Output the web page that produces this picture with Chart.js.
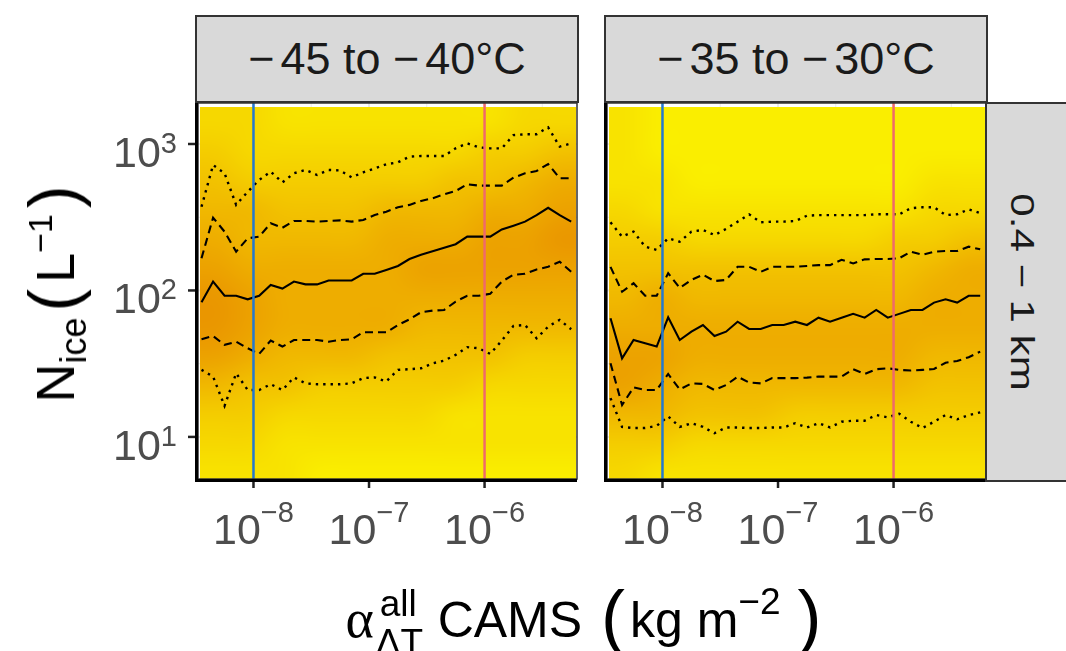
<!DOCTYPE html>
<html>
<head>
<meta charset="utf-8">
<script src="https://cdn.jsdelivr.net/npm/chart.js@4.4.1/dist/chart.umd.min.js"></script>
<style>
  html, body { margin: 0; padding: 0; background: #fff; }
  #wrap { position: relative; width: 1066px; height: 651px; overflow: hidden;
          font-family: 'Liberation Sans', Arial, sans-serif; }
  canvas { position: absolute; left: 0; top: 0; }
  .strip { position: absolute; box-sizing: border-box; background: #d9d9d9;
           border: 2px solid #333; color: #1a1a1a; font-size: 45px;
           display: flex; align-items: center; justify-content: center; white-space: nowrap; }
  .neg { margin-right: 6px; }
  #rowtext { position: absolute; left: 1022px; top: 292px; color: #1a1a1a; font-size: 42px; white-space: nowrap;
             line-height: 1; transform: translate(-50%, -50%) rotate(90deg) scaleY(0.78); }
  #ytitle { position: absolute; left: 50px; top: 291px; transform: translate(-50%, -50%) rotate(-90deg);
            font-size: 54px; line-height: 1; white-space: nowrap; color: #000; }
  #ytitle .sub { font-size: 36px; position: relative; top: 12px; }
  #ytitle .sup { font-size: 34px; position: relative; top: -22px; }
  #ytitle .bigp { font-size: 68px; position: relative; top: 3px; margin: 0 6px; }
  #xtitle { position: absolute; left: 586px; top: 576px; transform: translateX(-50%);
            font-size: 50px; line-height: 1; white-space: nowrap; color: #000; }
  #xtitle .alpha { font-family: 'Liberation Serif', serif; font-size: 54px; }
  #xtitle .stack { display: inline-block; position: relative; width: 50px; height: 0; }
  #xtitle .stack .up { position: absolute; left: 6px; bottom: 15px; font-size: 37px; line-height: 1; }
  #xtitle .stack .dn { position: absolute; left: 2px; top: -13px; font-size: 37px; line-height: 1; }
  #xtitle .sup { font-size: 37px; position: relative; top: -23px; margin-right: 12px; }
  #xtitle .bigp { font-size: 72px; position: relative; top: 4px; margin: 0 5px; }
</style>
</head>
<body>
<div id="wrap">
  <canvas id="leftPanel" width="1066" height="651"></canvas>
  <canvas id="rightPanel" width="1066" height="651"></canvas>
  <div class="strip" id="strip0" style="left:195px; top:15px; width:384px; height:88px;"></div>
  <div class="strip" id="strip1" style="left:604px; top:15px; width:384px; height:88px;"></div>
  <div class="strip" style="left:985px; top:102px; width:120px; height:380px;"></div>
  <div id="rowtext"></div>
  <div id="ytitle">N<span class="sub">ice</span><span class="bigp">(</span>L<span class="sup">−1</span><span class="bigp">)</span></div>
  <div id="xtitle"><span class="alpha">α</span><span class="stack"><span class="up">all</span><span class="dn">ΔT</span></span> CAMS <span class="bigp">(</span>kg m<span class="sup">−2</span><span class="bigp">)</span></div>
</div>
<script>
// facet labels
const tempBins = [['−', '45 to ', '−', '40°C'], ['−', '35 to ', '−', '30°C']];
const heightBin = '0.4 − 1 km';

// axes
const xLimits = [3.31e-9, 6.31e-6];
const yLimits = [5.16, 1905];
const xBreaks = [1e-8, 1e-7, 1e-6];
const xTickExp = ['−8', '−7', '−6'];
const xMinor = [3.16e-8, 3.16e-7, 3.16e-6];
const yBreaks = [10, 100, 1000];
const yTickExp = ['1', '2', '3'];
const yMinor = [31.6, 316];
const refLines = [1e-8, 1e-6];
const refColors = ['#2479cf', '#ef6a6a'];

// aerosol bins (bin centres)
const xBins = [3.55e-9, 4.47e-9, 5.62e-9, 7.08e-9, 8.91e-9, 1.12e-8, 1.41e-8, 1.78e-8, 2.24e-8, 2.82e-8,
               3.55e-8, 4.47e-8, 5.62e-8, 7.08e-8, 8.91e-8, 1.12e-7, 1.41e-7, 1.78e-7, 2.24e-7, 2.82e-7,
               3.55e-7, 4.47e-7, 5.62e-7, 7.08e-7, 8.91e-7, 1.12e-6, 1.41e-6, 1.78e-6, 2.24e-6, 2.82e-6,
               3.55e-6, 4.47e-6, 5.62e-6];

// -45 to -40 C percentiles
const p90Cold = [373, 719, 631, 384, 472, 568, 647, 547, 631, 665, 614, 665, 660, 592, 640, 682, 726, 750, 819, 828,
                 828, 828, 934, 1010, 949, 934, 934, 1150, 1165, 1165, 1300, 959, 1010];
const p75Cold = [166, 314, 252, 184, 227, 233, 288, 268, 298, 298, 295, 298, 301, 295, 303, 327, 345, 370, 384, 408,
                 426, 453, 477, 531, 520, 520, 520, 589, 631, 654, 730, 583, 583];
const p50Cold = [83, 115, 92, 92, 87, 92, 109, 103, 115, 110, 110, 117, 117, 117, 130, 130, 138, 147, 164, 175,
                 185, 196, 207, 233, 233, 233, 261, 277, 295, 327, 367, 327, 295];
const p25Cold = [46.4, 48.9, 42.5, 44.7, 40.3, 36.9, 45.5, 41.4, 45.9, 45.9, 45.9, 44.7, 45.9, 46.4, 51.8, 51.8, 51.8,
                 58.1, 63.5, 71, 72.8, 73.6, 84, 92, 92, 95, 115, 128, 130, 139, 145, 157, 134];
const p10Cold = [28.7, 25.8, 16.3, 27.2, 20.9, 20.9, 22.9, 20.9, 25.5, 23.2, 22.9, 22.9, 22.9, 23.2, 25.2, 25.5, 23.9,
                 28.7, 29.0, 29.4, 31.8, 33.2, 36.3, 41, 40.3, 36.9, 45.5, 57.3, 58.1, 47.1, 56.6, 63, 54.3];

// -35 to -30 C percentiles
const p90Warm = [292, 233, 252, 199, 189, 227, 215, 252, 259, 239, 263, 295, 331, 292, 295, 295, 298, 324, 327, 327,
                 327, 327, 327, 331, 331, 331, 364, 370, 370, 327, 331, 358, 337];
const p75Warm = [145, 98, 112, 92, 92, 131, 104, 118, 128, 116, 118, 145, 145, 134, 145, 145, 145, 147, 149, 149,
                 162, 153, 163, 164, 164, 166, 184, 175, 184, 186, 186, 199, 191];
const p50Warm = [64.6, 34.4, 45.9, 43.6, 41.4, 65.6, 45.9, 52.3, 58.1, 48.9, 52.3, 61.2, 54.6, 54.6, 58.1, 58.1, 61.2,
                 58.1, 65.2, 61.2, 65.2, 69.2, 65.2, 73.6, 65.2, 69.2, 73.6, 73.6, 82.6, 87, 82.6, 92, 92];
const p25Warm = [31.8, 16.5, 21.8, 20.9, 20.9, 26.9, 21.1, 23.2, 23, 20.9, 22.6, 25.8, 23.5, 23.2, 25.2, 25.2, 25.2,
                 25.4, 25.8, 25.8, 25.8, 29.0, 26.9, 29.0, 29.4, 28.7, 28.4, 28.7, 29.1, 32.1, 33, 35, 38.2];
const p10Warm = [18.4, 11.7, 11.5, 11.5, 11.9, 13.8, 11.7, 12.4, 11.7, 10.6, 11.6, 11.6, 11.5, 11.5, 11.6, 11.6, 12.4,
                 11.6, 12.4, 11.6, 12.7, 12.9, 12.9, 14.1, 13.6, 14.4, 12.7, 11.5, 12.7, 14.1, 13.2, 14.1, 14.7];

// 2d histogram, shade 0 (yellow) .. 9 (orange); rows top to bottom, 0.2 decade each
const heatX = [3.44e-9, 6.17e-6];
const heatY = [4.47, 1778];
const heatCold = [
  '22111111122',
  '32222222334',
  '43333334456',
  '55444555667',
  '65555666778',
  '76666677777',
  '87666666666',
  '87666655555',
  '76555444433',
  '54433333222',
  '33222221111',
  '22111111111',
  '11100000000'
];
const heatWarm = [
  '10000000000',
  '10000000000',
  '11000000011',
  '21111111122',
  '33222222334',
  '44444444456',
  '56555555566',
  '66666666666',
  '77666666655',
  '76555555544',
  '55444333333',
  '33222222222',
  '21111111111'
];

function stripHtml(parts) {
  return '<span><span class="neg">' + parts[0] + '</span>' + parts[1] +
         '<span class="neg">' + parts[2] + '</span>' + parts[3] + '</span>';
}
document.getElementById('strip0').innerHTML = stripHtml(tempBins[0]);
document.getElementById('strip1').innerHTML = stripHtml(tempBins[1]);
document.getElementById('rowtext').textContent = heightBin;

function shade(level) {
  const t = level / 9;
  return [Math.round(250 - 18 * t), Math.round(238 - 98 * t), 0];
}

const panelPlugin = {
  id: 'panel',
  beforeDatasetsDraw(chart, args, opts) {
    const { ctx, chartArea: a, scales: { x, y } } = chart;
    ctx.save();
    ctx.fillStyle = '#ffffff';
    ctx.fillRect(a.left, a.top, a.width, a.height);
    ctx.strokeStyle = '#ebebeb';
    const grid = (vals, scale, horiz, w) => {
      ctx.lineWidth = w;
      vals.forEach(v => {
        const p = scale.getPixelForValue(v);
        ctx.beginPath();
        if (horiz) { ctx.moveTo(a.left, p); ctx.lineTo(a.right, p); }
        else { ctx.moveTo(p, a.top); ctx.lineTo(p, a.bottom); }
        ctx.stroke();
      });
    };
    grid(xMinor, x, false, 1); grid(yMinor, y, true, 1);
    grid(xBreaks, x, false, 2); grid(yBreaks, y, true, 2);

    // histogram image, edges repeated so smoothing does not fade the border
    const heat = opts.heat;
    const rows = heat.length, cols = heat[0].length;
    const off = document.createElement('canvas');
    off.width = cols + 2; off.height = rows + 2;
    const octx = off.getContext('2d');
    const img = octx.createImageData(cols + 2, rows + 2);
    for (let r = 0; r < rows + 2; r++) {
      for (let c = 0; c < cols + 2; c++) {
        const rr = Math.min(rows - 1, Math.max(0, r - 1));
        const cc = Math.min(cols - 1, Math.max(0, c - 1));
        const col = shade(+heat[rr][cc]);
        const k = (r * (cols + 2) + c) * 4;
        img.data[k] = col[0]; img.data[k + 1] = col[1]; img.data[k + 2] = col[2]; img.data[k + 3] = 255;
      }
    }
    octx.putImageData(img, 0, 0);
    const x0 = x.getPixelForValue(heatX[0]), x1 = x.getPixelForValue(heatX[1]);
    const yt = y.getPixelForValue(heatY[1]), yb = y.getPixelForValue(heatY[0]);
    ctx.beginPath();
    ctx.rect(a.left, a.top, a.width, a.height);
    ctx.clip();
    ctx.imageSmoothingEnabled = true;
    ctx.imageSmoothingQuality = 'high';
    ctx.drawImage(off, 1, 1, cols, rows, x0, yt, x1 - x0, yb - yt);
    ctx.restore();
  },
  afterDraw(chart, args, opts) {
    const { ctx, chartArea: a, scales: { x, y } } = chart;
    ctx.save();
    ctx.strokeStyle = '#333333';
    ctx.lineWidth = 1.5;
    ctx.strokeRect(a.left, a.top, a.width, a.height);

    ctx.strokeStyle = '#000000';
    ctx.lineWidth = 3;
    ctx.beginPath();
    ctx.moveTo(a.left - 1.5, a.top);
    ctx.lineTo(a.left - 1.5, a.bottom + 3);
    ctx.moveTo(a.left - 3, a.bottom + 1.5);
    ctx.lineTo(a.right, a.bottom + 1.5);
    ctx.stroke();

    ctx.strokeStyle = '#222222';
    ctx.lineWidth = 2.5;
    ctx.fillStyle = '#4d4d4d';
    ctx.textBaseline = 'alphabetic';
    ctx.textAlign = 'left';
    xBreaks.forEach((v, i) => {
      const p = x.getPixelForValue(v);
      ctx.beginPath(); ctx.moveTo(p, a.bottom + 3); ctx.lineTo(p, a.bottom + 9); ctx.stroke();
      ctx.font = '43px "Liberation Sans"';
      const wb = ctx.measureText('10').width;
      ctx.font = '29px "Liberation Sans"';
      const we = ctx.measureText(xTickExp[i]).width;
      const s = p - (wb + we) / 2;
      ctx.font = '43px "Liberation Sans"';
      ctx.fillText('10', s, a.bottom + 65);
      ctx.font = '29px "Liberation Sans"';
      ctx.fillText(xTickExp[i], s + wb, a.bottom + 43);
    });
    if (opts.showY) {
      yBreaks.forEach((v, i) => {
        const p = y.getPixelForValue(v);
        ctx.beginPath(); ctx.moveTo(a.left - 10, p); ctx.lineTo(a.left - 3, p); ctx.stroke();
        ctx.font = '29px "Liberation Sans"';
        const we = ctx.measureText(yTickExp[i]).width;
        ctx.font = '43px "Liberation Sans"';
        const wb = ctx.measureText('10').width;
        const r = a.left - 21;
        ctx.fillText('10', r - we - wb, p + 23);
        ctx.font = '29px "Liberation Sans"';
        ctx.fillText(yTickExp[i], r - we, p + 9);
      });
    }
    ctx.restore();
  }
};

function makePanel(id, pad, series, heat, showY) {
  const dashes = [[2.4, 5], [8, 5], [], [8, 5], [2.4, 5]];
  const widths = [2.4, 2.1, 2.1, 2.1, 2.4];
  const datasets = refLines.map((v, i) => ({
    data: [{ x: v, y: yLimits[0] }, { x: v, y: yLimits[1] }],
    borderColor: refColors[i], borderWidth: 2.5, pointRadius: 0
  }));
  series.forEach((s, i) => datasets.push({
    data: xBins.map((xv, j) => ({ x: xv, y: s[j] })),
    borderColor: '#000000', borderWidth: widths[i], borderDash: dashes[i],
    pointRadius: 0, tension: 0
  }));
  return new Chart(document.getElementById(id), {
    type: 'line',
    data: { datasets },
    options: {
      responsive: false, animation: false, devicePixelRatio: 1,
      layout: { padding: pad },
      plugins: { legend: { display: false }, tooltip: { enabled: false }, panel: { heat, showY } },
      scales: {
        x: { type: 'logarithmic', min: xLimits[0], max: xLimits[1], bounds: 'data', display: false },
        y: { type: 'logarithmic', min: yLimits[0], max: yLimits[1], bounds: 'data', display: false }
      }
    },
    plugins: [panelPlugin]
  });
}

makePanel('leftPanel', { left: 198, top: 103, right: 1066 - 577, bottom: 651 - 479 },
  [p90Cold, p75Cold, p50Cold, p25Cold, p10Cold], heatCold, true);
makePanel('rightPanel', { left: 607, top: 103, right: 1066 - 986, bottom: 651 - 479 },
  [p90Warm, p75Warm, p50Warm, p25Warm, p10Warm], heatWarm, false);
</script>
</body>
</html>
